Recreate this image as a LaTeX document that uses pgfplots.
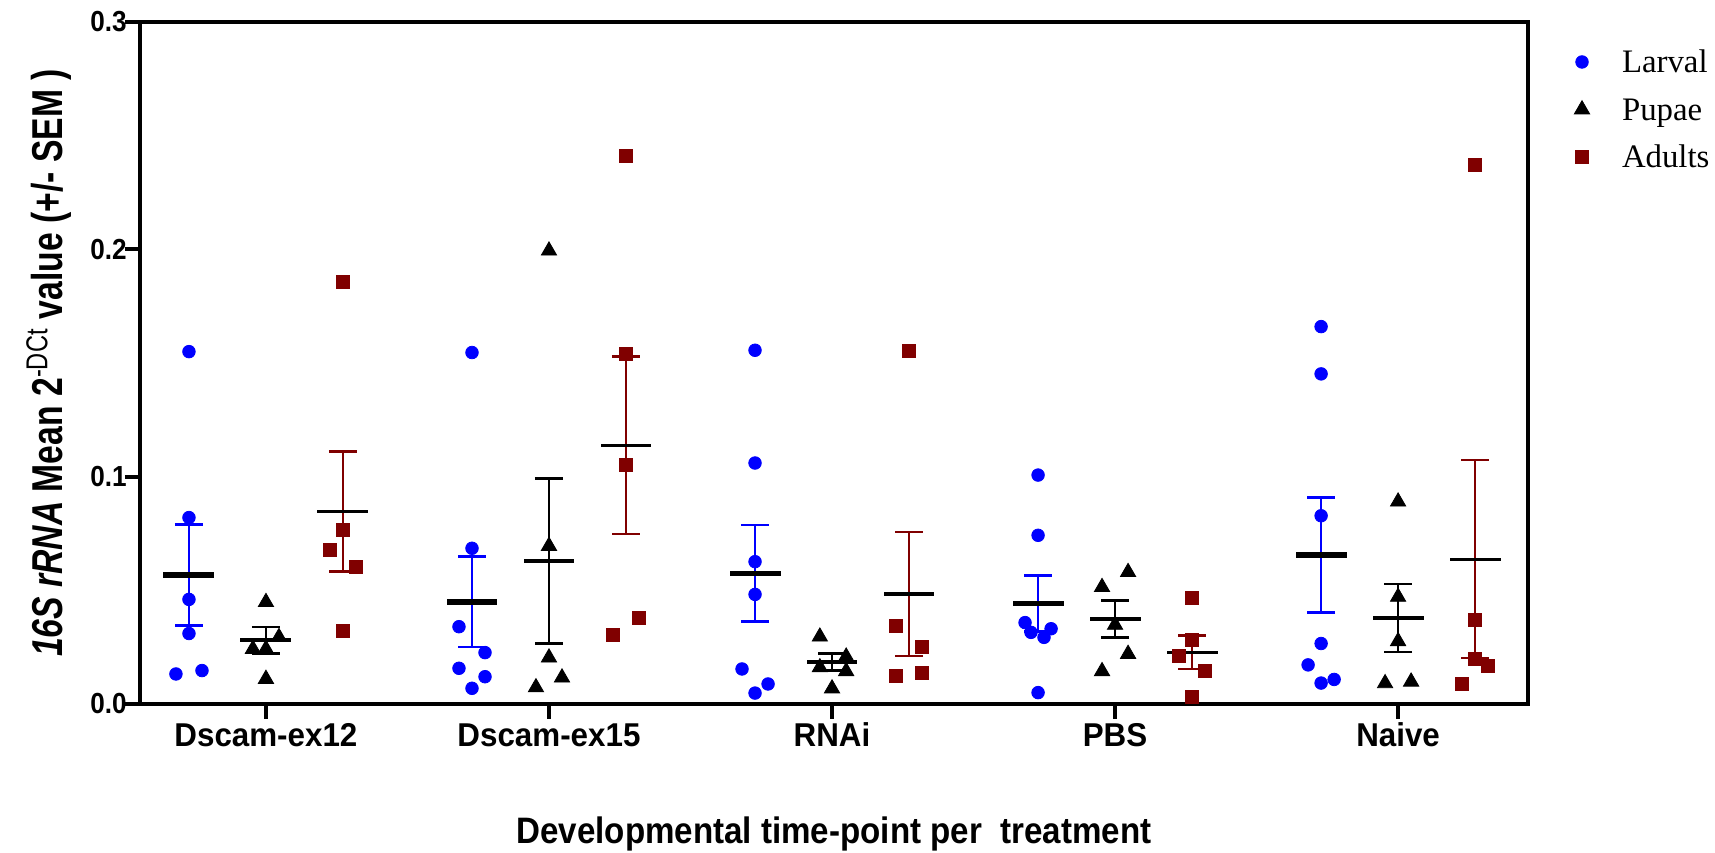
\documentclass[border=0pt]{standalone}
\usepackage{fontspec}
\setmainfont{Liberation Sans}
\newfontfamily\tickfont[FakeStretch=0.95]{Liberation Sans}
\newfontfamily\xlabfont[FakeStretch=0.9]{Liberation Sans}
\newfontfamily\ylabfont[FakeStretch=0.78]{Liberation Sans}
\newfontfamily\legfont{Liberation Serif}
\usepackage{pgfplots}
\pgfplotsset{compat=1.18}
\usetikzlibrary{calc}
\definecolor{dred}{RGB}{128,0,0}
\definecolor{lblue}{RGB}{0,0,255}

\pgfplotstableread{
x y
-0.272 0.155
-0.272 0.082
-0.272 0.046
-0.272 0.031
-0.318 0.0132
-0.226 0.0147
0.728 0.1546
0.728 0.0685
0.682 0.034
0.774 0.0226
0.682 0.0157
0.774 0.012
0.728 0.0069
1.728 0.1556
1.728 0.106
1.728 0.0626
1.728 0.0482
1.682 0.0154
1.774 0.0088
1.728 0.0048
2.728 0.1007
2.728 0.0742
2.682 0.0358
2.774 0.0331
2.703 0.0315
2.749 0.0293
2.728 0.005
3.728 0.166
3.728 0.1452
3.728 0.0828
3.728 0.0266
3.682 0.0172
3.774 0.0108
3.728 0.0092
}\larval

\pgfplotstableread{
x y
0 0.0448
0.046 0.0294
-0.046 0.0242
0 0.0242
0 0.011
1 0.1994
1 0.0695
1 0.0204
0.954 0.0073
1.046 0.0116
1.957 0.0296
2.05 0.0208
1.957 0.0161
2.05 0.0144
2 0.0068
3.046 0.058
2.954 0.0514
3 0.0348
3.046 0.022
2.954 0.0144
4 0.089
4 0.0471
4 0.0276
3.954 0.0091
4.046 0.0098
}\pupae

\pgfplotstableread{
x y
0.272 0.1857
0.272 0.0765
0.226 0.0677
0.318 0.0601
0.272 0.0323
1.272 0.241
1.272 0.1539
1.272 0.1051
1.318 0.0378
1.226 0.0306
2.272 0.1554
2.226 0.0345
2.318 0.0252
2.226 0.0125
2.318 0.0138
3.272 0.0465
3.272 0.0282
3.226 0.0213
3.318 0.0145
3.272 0.003
4.272 0.2373
4.272 0.037
4.272 0.0198
4.318 0.0168
4.226 0.0087
}\adults

\pgfplotstableread{
x m e
-0.272 0.0567 0.0222
0.728 0.0449 0.0199
1.728 0.0575 0.0213
2.728 0.0442 0.0124
3.728 0.0655 0.0252
}\larvalstat

\pgfplotstableread{
x m e
0 0.0281 0.0058
1 0.0629 0.0363
2 0.0185 0.0038
3 0.0374 0.0082
4 0.0378 0.0149
}\pupaestat

\pgfplotstableread{
x m e
0.272 0.0846 0.0264
1.272 0.1138 0.0390
2.272 0.0484 0.0272
3.272 0.0227 0.0074
4.272 0.0637 0.0435
}\adultsstat

\begin{document}
\begin{tikzpicture}
\begin{axis}[
  scale only axis, width=694pt, height=341pt,
  xmin=-0.445, xmax=4.459, ymin=0, ymax=0.3,
  xtick={0,1,2,3,4},
  xticklabels={Dscam-ex12,Dscam-ex15,RNAi,PBS,Naive},
  ytick={0,0.1,0.2,0.3},
  yticklabels={0.0,0.1,0.2,0.3},
  tick align=outside, tick pos=left,
  major tick length=7.5pt,
  tick style={line width=2pt, black},
  axis line style={line width=2pt},
  xticklabel style={font=\tickfont\bfseries\fontsize{16.5}{19}\selectfont, anchor=base, yshift=-14pt, inner sep=0pt},
  yticklabel style={font=\xlabfont\bfseries\fontsize{14.5}{17}\selectfont, anchor=east, xshift=1pt, inner sep=0pt},
  xlabel={Developmental time-point per\ \ treatment},
  xlabel style={font=\xlabfont\bfseries\fontsize{18.4}{21}\selectfont, at={(axis description cs:0.5,0)}, anchor=base, yshift=-70pt},
  ylabel={\itshape 16S rRNA\upshape{} Mean 2\textsuperscript{\mdseries -DCt} value (+/- SEM )},
  ylabel style={font=\ylabfont\bfseries\fontsize{21.6}{25}\selectfont, at={(axis description cs:-0.0656,0.5)}, anchor=center},
  legend style={at={(axis description cs:1,1)}, anchor=north west, xshift=21pt, yshift=-12.5pt,
    draw=none, fill=none, inner sep=0pt, outer sep=0pt, row sep=8.75pt, column sep=0pt,
    font=\legfont\fontsize{16.4}{19}\selectfont,
    nodes={inner sep=2pt, text height=11pt, text depth=0pt}},
  legend cell align=left,
  legend image code/.code={\path[draw=none, fill=none] (-6pt,-5pt) rectangle (18pt,5pt); \draw[#1] plot coordinates {(0pt,0pt)};},
  clip=false,
]
% scatter points
\addplot[only marks, mark=*, mark size=3.15pt, mark options={draw=lblue, fill=lblue}] table[x=x,y=y] {\larval};
\addlegendentry{Larval}
\addplot[only marks, mark=triangle*, mark size=4.4pt, mark options={draw=black, fill=black}] table[x=x,y=y] {\pupae};
\addlegendentry{Pupae}
\addplot[only marks, mark=square*, mark size=3.25pt, mark options={draw=dred, fill=dred}] table[x=x,y=y] {\adults};
\addlegendentry{Adults}
% SEM bars
\addplot[forget plot, draw=none, mark=none, error bars/.cd, y dir=both, y explicit,
  error bar style={line width=1.3pt, draw=lblue}, error mark options={rotate=90, mark size=7pt, line width=1.3pt, draw=lblue}]
  table[x=x, y=m, y error=e] {\larvalstat};
\addplot[forget plot, draw=none, mark=none, error bars/.cd, y dir=both, y explicit,
  error bar style={line width=1.3pt, draw=black}, error mark options={rotate=90, mark size=7pt, line width=1.3pt, draw=black}]
  table[x=x, y=m, y error=e] {\pupaestat};
\addplot[forget plot, draw=none, mark=none, error bars/.cd, y dir=both, y explicit,
  error bar style={line width=1.2pt, draw=dred}, error mark options={rotate=90, mark size=7pt, line width=1.2pt, draw=dred}]
  table[x=x, y=m, y error=e] {\adultsstat};
% mean lines
\addplot[forget plot, draw=none, mark=none, error bars/.cd, x dir=both, x fixed=0.09, error mark=none,
  error bar style={line width=2.6pt, draw=black}] table[x=x, y=m] {\larvalstat};
\addplot[forget plot, draw=none, mark=none, error bars/.cd, x dir=both, x fixed=0.09, error mark=none,
  error bar style={line width=2pt, draw=black}] table[x=x, y=m] {\pupaestat};
\addplot[forget plot, draw=none, mark=none, error bars/.cd, x dir=both, x fixed=0.09, error mark=none,
  error bar style={line width=1.6pt, draw=black}] table[x=x, y=m] {\adultsstat};
\end{axis}
\pgfresetboundingbox
\path ($(current axis.south west)+(-70pt,-74.5pt)$) rectangle ($(current axis.north east)+(93.5pt,11pt)$);
\end{tikzpicture}
\end{document}
